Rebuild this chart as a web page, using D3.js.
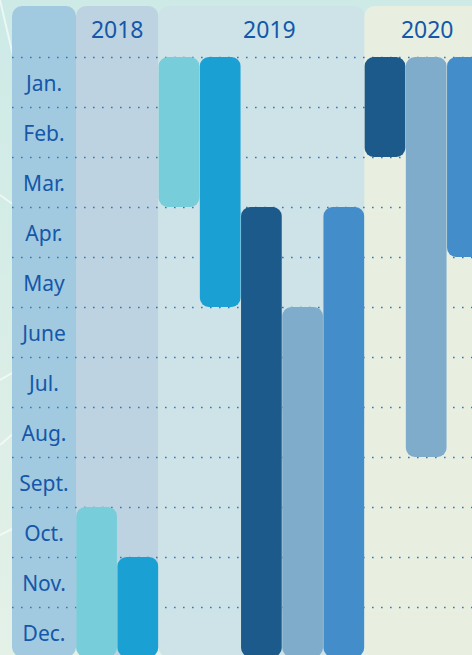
<!DOCTYPE html>
<html>
<head>
<meta charset="utf-8">
<script src="https://cdn.jsdelivr.net/npm/d3@7"></script>
<style>
html, body { margin: 0; padding: 0; overflow: hidden; }
body { width: 472px; height: 655px; }
</style>
</head>
<body>
<div id="chart"></div>
<script>
var months = ["Jan.", "Feb.", "Mar.", "Apr.", "May", "June", "Jul.", "Aug.", "Sept.", "Oct.", "Nov.", "Dec."];
var years = ["2018", "2019", "2020"];

// one entry per bar, left to right
var barYear  = ["2018", "2018", "2019", "2019", "2019", "2019", "2019", "2020", "2020", "2020"];
var barStart = ["Oct.", "Nov.", "Jan.", "Jan.", "Apr.", "June", "Apr.", "Jan.", "Jan.", "Jan."];
var barEnd   = ["Dec.", "Dec.", "Mar.", "May",  "Dec.", "Dec.", "Dec.", "Feb.", "Aug.", "Apr."];
var barSeries = ["A", "B", "A", "B", "C", "D", "E", "C", "D", "E"];

var width = 472;
var height = 655;

var svg = d3.select("#chart")
	.append("svg")
	.attr("width", width)
	.attr("height", height);

var labelCol = {left: 12, right: 76};
var panelTop = 6;
var panelBottom = 657;

var xScale = d3.scaleBand()
	.domain(d3.range(barYear.length))
	.range([labelCol.right, labelCol.right + 41.2 * barYear.length])
	.paddingInner(0.012)
	.paddingOuter(0.006);

var yScale = d3.scaleBand()
	.domain(months)
	.range([57, 657]);

var color = d3.scaleOrdinal()
	.domain(["A", "B", "C", "D", "E"])
	.range(["#77cdd9", "#1ba0d4", "#1c5a8c", "#7facca", "#438dca"]);

var panelColor = d3.scaleOrdinal()
	.domain(years)
	.range(["#bed3e1", "#cee3e8", "#e8efe1"]);

var fontStack = "'Noto Sans', 'Open Sans', sans-serif";
var textColor = "#1557a8";

// background
var defs = svg.append("defs");
var bg = defs.append("linearGradient")
	.attr("id", "bgGrad")
	.attr("x1", "0%").attr("y1", "0%")
	.attr("x2", "0%").attr("y2", "100%");
bg.append("stop").attr("offset", "0%").style("stop-color", "#cdeae6");
bg.append("stop").attr("offset", "100%").style("stop-color", "#e4f1e7");

svg.append("rect")
	.attr("width", width)
	.attr("height", height)
	.attr("fill", "url(#bgGrad)");

// faint streaks in the backdrop
var streaks = [[0, 0, 14, 60], [0, 195, 14, 205], [0, 380, 14, 372], [0, 445, 14, 433], [0, 535, 14, 528]];
svg.selectAll(".streak")
	.data(streaks)
	.enter().append("line")
	.attr("class", "streak")
	.attr("x1", function(d) { return d[0]; })
	.attr("y1", function(d) { return d[1]; })
	.attr("x2", function(d) { return d[2]; })
	.attr("y2", function(d) { return d[3]; })
	.attr("stroke", "#ffffff")
	.attr("stroke-opacity", 0.6)
	.attr("stroke-width", 2);

// month column
svg.append("rect")
	.attr("x", labelCol.left)
	.attr("y", panelTop)
	.attr("width", labelCol.right - labelCol.left)
	.attr("height", panelBottom - panelTop)
	.attr("rx", 10)
	.attr("fill", "#a1cae0");

// year panels
var panels = years.map(function(y) {
	var idx = d3.range(barYear.length).filter(function(i) { return barYear[i] == y; });
	var x0 = xScale(idx[0]) - xScale.step() * xScale.paddingInner() / 2;
	var x1 = xScale(idx[idx.length - 1]) + xScale.bandwidth() + xScale.step() * xScale.paddingInner() / 2;
	if (idx[0] == 0) x0 = labelCol.right;
	return {year: y, x0: x0, x1: x1};
});

svg.selectAll(".panel")
	.data(panels)
	.enter().append("rect")
	.attr("class", "panel")
	.attr("x", function(d) { return d.x0; })
	.attr("y", panelTop)
	.attr("width", function(d) { return d.x1 - d.x0; })
	.attr("height", panelBottom - panelTop)
	.attr("rx", 10)
	.attr("fill", function(d) { return panelColor(d.year); });

var yearOffset = {"2018": 0, "2019": 8, "2020": 1};
svg.selectAll(".year")
	.data(panels)
	.enter().append("text")
	.attr("class", "year")
	.attr("x", function(d) { return (d.x0 + d.x1) / 2 + yearOffset[d.year]; })
	.attr("y", 38)
	.attr("text-anchor", "middle")
	.attr("fill", textColor)
	.style("font-family", fontStack)
	.style("font-size", "23px")
	.text(function(d) { return d.year; });

// dotted row lines
svg.selectAll(".row-line")
	.data(months)
	.enter().append("line")
	.attr("class", "row-line")
	.attr("x1", labelCol.left)
	.attr("x2", width)
	.attr("y1", function(d) { return yScale(d) + 0.5; })
	.attr("y2", function(d) { return yScale(d) + 0.5; })
	.attr("stroke", "#3577bd")
	.attr("stroke-width", 1.6)
	.attr("stroke-dasharray", "1.6,7.4");

// month labels
svg.selectAll(".month")
	.data(months)
	.enter().append("text")
	.attr("class", "month")
	.attr("x", (labelCol.left + labelCol.right) / 2)
	.attr("y", function(d) { return yScale(d) + yScale.bandwidth() / 2 + 1; })
	.attr("dy", "0.36em")
	.attr("text-anchor", "middle")
	.attr("fill", textColor)
	.style("font-family", fontStack)
	.style("font-size", "21px")
	.text(function(d) { return d; });

// bars
svg.selectAll(".bar")
	.data(d3.range(barYear.length))
	.enter().append("rect")
	.attr("class", "bar")
	.attr("x", function(i) { return xScale(i); })
	.attr("y", function(i) { return yScale(barStart[i]); })
	.attr("width", xScale.bandwidth())
	.attr("height", function(i) { return yScale(barEnd[i]) + yScale.bandwidth() - yScale(barStart[i]); })
	.attr("rx", 9)
	.attr("fill", function(i) { return color(barSeries[i]); });
</script>
</body>
</html>
